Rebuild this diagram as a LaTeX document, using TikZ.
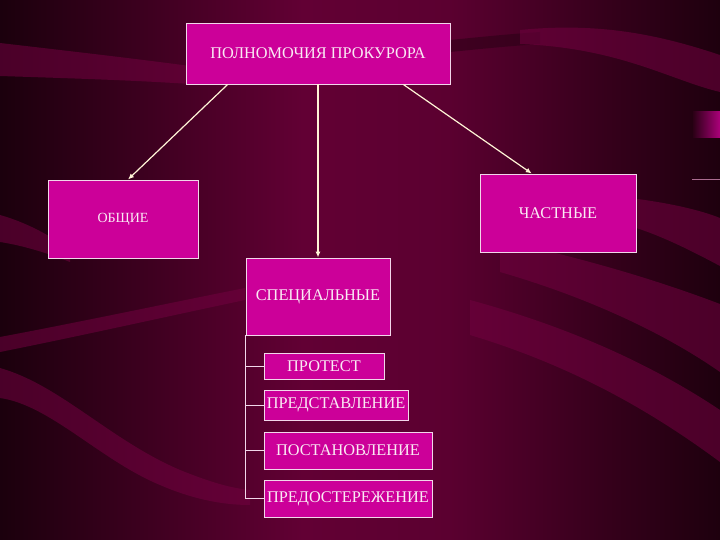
\documentclass[tikz,border=0pt]{standalone}
\usepackage{fontspec}
\setmainfont{Liberation Serif}
\usetikzlibrary{calc,arrows.meta}
\definecolor{bgmid}{HTML}{620034}
\definecolor{bgdark}{HTML}{1E000E}
\definecolor{bandlight}{HTML}{720040}
\definecolor{banddark}{HTML}{2A0015}
\definecolor{boxfill}{HTML}{CC0099}
\definecolor{boxline}{HTML}{F2D6EA}
\definecolor{boxtext}{HTML}{FAEAF4}
\definecolor{arrowcol}{HTML}{FFF4D6}
\pgfdeclarehorizontalshading{bgshade}{100bp}{color(0bp)=(bgdark!90!black); color(25bp)=(bgdark!90!black); color(34bp)=(bgdark!60!bgmid); color(46bp)=(bgmid); color(56bp)=(bgmid!90!bgdark); color(67bp)=(bgdark!65!bgmid); color(75bp)=(bgdark); color(100bp)=(bgdark)}
\tikzset{
  box/.style={draw=boxline, fill=boxfill, line width=0.9pt, text=boxtext,
    inner sep=0pt, font=\fontsize{16.3}{19}\selectfont},
  conn/.style={draw=arrowcol, line width=1.2pt, -{Latex[length=6pt,width=5pt]}},
  tree/.style={draw=boxline, line width=0.8pt},
  lband/.style={fill=bandlight, draw=none, opacity=0.55},
  dband/.style={fill=banddark, draw=none, opacity=0.55}
}
\begin{document}
\begin{tikzpicture}[x=1pt,y=-1pt]
\useasboundingbox (0,0) rectangle (720,540);
% background
\shade[shading=bgshade] (0,0) rectangle (720,540);
% wave bands
\fill[lband] (0,43) .. controls (60,50) and (130,58) .. (190,66) -- (190,84) .. controls (130,80) and (60,78) .. (0,76) -- cycle;
\fill[dband] (450,40) .. controls (480,37) and (510,34) .. (540,32) -- (540,44) .. controls (510,46) and (480,49) .. (450,52) -- cycle;
\fill[lband] (520,30) .. controls (600,22) and (660,35) .. (720,55) -- (720,92) .. controls (670,80) and (620,48) .. (520,44) -- cycle;
\fill[lband] (630,198) .. controls (670,203) and (700,210) .. (720,218) -- (720,266) .. controls (690,250) and (660,235) .. (630,226) -- cycle;
\fill[lband] (500,240) .. controls (600,262) and (670,285) .. (720,304) -- (720,372) .. controls (660,330) and (580,295) .. (500,272) -- cycle;
\fill[lband] (470,300) .. controls (580,330) and (660,370) .. (720,410) -- (720,462) .. controls (650,410) and (570,365) .. (470,335) -- cycle;
\fill[lband] (0,337) .. controls (80,322) and (160,305) .. (245,288) -- (245,300) .. controls (160,318) and (80,336) .. (0,352) -- cycle;
\fill[lband] (0,368) .. controls (60,385) and (110,440) .. (180,470) .. controls (210,482) and (230,488) .. (250,490) -- (250,505) .. controls (220,505) and (190,498) .. (160,485) .. controls (100,460) and (50,405) .. (0,398) -- cycle;
\fill[lband] (0,215) .. controls (25,222) and (50,235) .. (70,250) -- (70,262) .. controls (45,252) and (20,245) .. (0,242) -- cycle;
% small right-edge details
\shade[left color=bgdark!80!bgmid, right color=boxfill!70!bgmid] (693,112) rectangle (720,138);
\draw[boxline!50!bgmid, line width=0.8pt] (692,179) -- (720,179);
% nodes
\node[box, minimum width=264pt, minimum height=61pt] (top) at (318,53.5) {ПОЛНОМОЧИЯ ПРОКУРОРА};
\node[box, minimum width=150pt, minimum height=78pt, font=\fontsize{14}{16}\selectfont] (obsh) at (123,219) {ОБЩИЕ};
\node[box, minimum width=156pt, minimum height=78pt] (chast) at (558,213) {ЧАСТНЫЕ};
\node[box, minimum width=144pt, minimum height=77pt] (spec) at (318,296.5) {СПЕЦИАЛЬНЫЕ};
\node[box, minimum width=120pt, minimum height=26pt] (p1) at (324,366) {ПРОТЕСТ};
\node[box, minimum width=144pt, minimum height=30pt] (p2) at (336,405) {ПРЕДСТАВЛЕНИЕ};
\node[box, minimum width=168pt, minimum height=37pt] (p3) at (348,450.5) {ПОСТАНОВЛЕНИЕ};
\node[box, minimum width=168pt, minimum height=37pt] (p4) at (348,498.5) {ПРЕДОСТЕРЕЖЕНИЕ};
% connectors
\draw[conn] ($(top.south west)!0.159!(top.south east)$) -- ($(obsh.north west)!0.533!(obsh.north east)$);
\draw[conn] (top.south) -- (spec.north);
\draw[conn] ($(top.south west)!0.822!(top.south east)$) -- ($(chast.north west)!0.333!(chast.north east)$);
% tree
\draw[tree] (spec.south west) |- (p4.west);
\draw[tree] (spec.south west |- p1.west) -- (p1.west);
\draw[tree] (spec.south west |- p2.west) -- (p2.west);
\draw[tree] (spec.south west |- p3.west) -- (p3.west);
\end{tikzpicture}
\end{document}
